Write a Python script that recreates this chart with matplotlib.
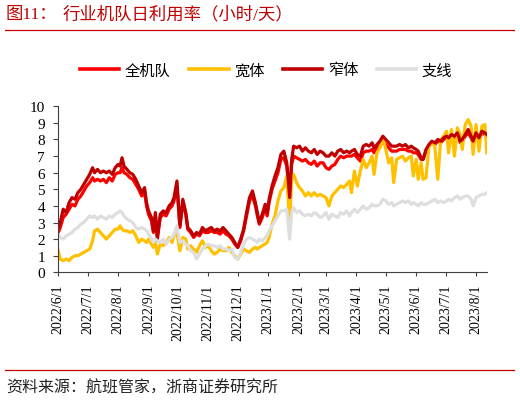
import matplotlib
matplotlib.use("Agg")
import matplotlib.pyplot as plt
import matplotlib.dates as mdates
from matplotlib.lines import Line2D
import pandas as pd

plt.rcParams['font.family'] = ['Liberation Serif', 'Noto Sans CJK SC', 'DejaVu Sans']

title_prefix = "图11："
title_main = "行业机队日利用率（小时/天）"
source_text = "资料来源：航班管家，浙商证券研究所"
series_names = ["全机队", "宽体", "窄体", "支线"]
start_date = "2022-06-01"

# days since 2022-06-01
day_offsets = [
    0, 2, 5, 8, 11, 14, 17, 20, 23, 26, 29, 32, 35, 37, 40, 43, 46, 49, 52, 55,
    58, 61, 63, 65, 67, 70, 73, 76, 79, 82, 85, 88, 90, 92, 95, 97, 99, 101, 104, 107,
    110, 113, 116, 118, 121, 124, 127, 130, 132, 135, 138, 141, 144, 147, 150, 153, 156, 159, 162, 165,
    168, 171, 174, 177, 180, 183, 186, 189, 192, 195, 198, 201, 203, 205, 208, 211, 213, 215, 218, 221,
    224, 227, 230, 233, 236, 238, 240, 243, 246, 249, 252, 255, 258, 261, 264, 267, 270, 273, 276, 279,
    282, 285, 288, 291, 294, 297, 299, 302, 305, 308, 311, 314, 317, 320, 322, 325, 328, 331, 334, 337,
    340, 342, 345, 348, 351, 354, 357, 360, 362, 365, 367, 370, 372, 375, 378, 381, 384, 387, 390, 393,
    396, 398, 401, 404, 407, 410, 412, 415, 418, 421, 423, 426, 429, 432, 435, 437,
]

fleet_all = [
    2.4, 2.7, 3.3, 3.5, 3.8, 4.1, 4.0, 4.4, 4.6, 4.9, 5.2, 5.4, 5.7, 5.5, 5.6, 5.5, 5.6, 5.4, 5.7, 5.5,
    5.9, 6.0, 6.0, 6.3, 6.0, 5.9, 5.7, 5.6, 5.3, 5.0, 4.6, 4.8, 4.0, 3.5, 3.1, 2.4, 3.4, 2.0, 3.3, 3.5,
    3.4, 3.8, 4.0, 4.3, 5.2, 2.7, 4.2, 3.5, 2.6, 2.4, 2.1, 2.3, 2.2, 2.5, 2.4, 2.4, 2.5, 2.4, 2.4, 2.3,
    2.5, 2.3, 2.2, 2.0, 1.7, 1.5, 1.9, 2.5, 3.4, 4.3, 4.6, 4.0, 3.4, 2.9, 3.3, 3.9, 3.4, 4.2, 5.0, 5.5,
    6.0, 6.8, 6.9, 6.4, 4.6, 6.5, 7.0, 6.9, 6.8, 6.7, 6.8, 6.6, 6.5, 6.7, 6.4, 6.6, 6.6, 6.3, 6.2, 6.4,
    6.5, 6.8, 7.0, 6.9, 7.0, 7.0, 7.0, 7.1, 6.9, 6.7, 7.2, 7.3, 7.3, 7.4, 7.2, 7.5, 7.6, 7.9, 7.7, 7.5,
    7.3, 7.3, 7.3, 7.4, 7.4, 7.4, 7.3, 7.3, 7.2, 7.2, 7.1, 6.8, 6.8, 7.3, 7.6, 7.8, 7.7, 7.9, 7.8, 8.0,
    8.1, 8.0, 8.2, 8.1, 8.3, 7.8, 7.9, 8.2, 8.4, 8.1, 7.8, 8.3, 8.0, 8.4, 8.3, 8.2,
]

widebody = [
    1.3, 0.8, 0.7, 0.8, 0.7, 0.9, 1.0, 1.0, 1.1, 1.2, 1.3, 1.4, 1.9, 2.5, 2.6, 2.4, 2.2, 2.0, 2.2, 2.4,
    2.6, 2.6, 2.8, 2.6, 2.5, 2.5, 2.4, 2.5, 2.2, 1.8, 2.0, 1.9, 1.8, 2.0, 1.7, 1.5, 1.8, 1.1, 1.7, 1.6,
    1.8, 2.1, 1.8, 2.2, 2.4, 1.3, 2.1, 2.0, 1.4, 1.6, 1.4, 1.2, 1.6, 1.9, 1.5, 1.6, 1.3, 1.1, 1.2, 1.4,
    1.3, 1.3, 1.5, 1.2, 1.0, 0.8, 1.1, 1.4, 1.3, 1.2, 1.4, 1.5, 1.4, 1.5, 1.6, 1.7, 1.8, 2.1, 2.9, 3.4,
    4.3, 4.9, 5.1, 5.8, 2.9, 5.6, 5.9, 5.4, 5.1, 4.9, 4.6, 4.8, 4.6, 4.8, 4.6, 4.7, 4.6, 4.5, 4.0, 4.6,
    4.8, 5.0, 5.2, 5.1, 5.3, 5.5, 4.8, 6.1, 5.2, 6.1, 6.8, 6.3, 6.6, 7.0, 5.9, 7.2, 7.5, 8.1, 7.4, 6.6,
    6.9, 5.4, 6.8, 6.9, 7.0, 6.7, 6.9, 7.0, 5.8, 6.8, 5.6, 6.6, 5.6, 5.7, 7.6, 7.8, 7.6, 5.6, 8.0, 8.2,
    8.5, 7.2, 8.6, 7.0, 8.7, 8.3, 7.4, 8.9, 9.2, 8.8, 7.1, 8.9, 7.3, 8.8, 8.9, 7.2,
]

narrowbody = [
    2.7, 3.0, 3.8, 3.6, 4.2, 4.5, 4.4, 4.8, 5.0, 5.3, 5.6, 5.9, 6.3, 6.0, 6.2, 6.0, 6.1, 6.0, 6.1, 5.9,
    6.3, 6.5, 6.4, 6.9, 6.4, 6.2, 6.0, 5.9, 5.6, 5.2, 4.8, 5.1, 4.2, 3.7, 3.3, 2.5, 3.6, 2.1, 3.5, 3.7,
    3.6, 4.0, 4.2, 4.5, 5.5, 2.8, 4.4, 3.6, 2.7, 2.5, 2.2, 2.4, 2.3, 2.7, 2.5, 2.6, 2.7, 2.5, 2.6, 2.5,
    2.7, 2.5, 2.3, 2.1, 1.8, 1.5, 2.0, 2.6, 3.6, 4.5, 4.9, 4.2, 3.6, 3.0, 3.5, 4.1, 3.6, 4.4, 5.2, 5.8,
    6.3, 7.1, 7.3, 6.6, 4.5, 6.8, 7.6, 7.5, 7.6, 7.3, 7.5, 7.3, 7.2, 7.4, 7.1, 7.3, 7.2, 7.0, 7.0, 7.2,
    7.0, 7.3, 7.4, 7.2, 7.3, 7.2, 7.3, 7.4, 7.1, 7.0, 7.6, 7.7, 7.6, 7.8, 7.5, 7.7, 7.9, 8.2, 8.0, 7.8,
    7.6, 7.6, 7.6, 7.7, 7.6, 7.7, 7.5, 7.6, 7.5, 7.4, 7.3, 6.9, 6.8, 7.4, 7.7, 7.9, 7.8, 8.0, 7.9, 8.1,
    8.2, 8.1, 8.3, 8.2, 8.4, 7.9, 8.0, 8.3, 8.6, 8.2, 7.9, 8.4, 8.1, 8.5, 8.4, 8.3,
]

regional = [
    2.3, 2.1, 2.0, 2.2, 2.3, 2.4, 2.6, 2.7, 2.9, 3.0, 3.2, 3.4, 3.3, 3.4, 3.2, 3.4, 3.3, 3.2, 3.4, 3.3,
    3.5, 3.6, 3.7, 3.6, 3.4, 3.2, 3.1, 3.0, 2.7, 2.6, 2.7, 2.6, 2.5, 2.3, 2.0, 1.8, 2.0, 1.9, 1.8, 2.0,
    1.7, 2.0, 2.1, 2.3, 2.8, 1.8, 1.9, 1.7, 1.6, 1.3, 1.2, 0.8, 1.1, 1.4, 1.6, 1.7, 1.6, 1.6, 1.5, 1.6,
    1.4, 1.4, 1.3, 1.4, 0.9, 0.8, 1.2, 1.7, 2.0, 2.1, 2.0, 1.9, 1.8, 2.0, 1.9, 2.1, 2.2, 2.5, 2.8, 3.1,
    3.4, 3.7, 3.7, 3.8, 2.0, 3.6, 3.9, 3.6, 3.7, 3.5, 3.4, 3.5, 3.4, 3.6, 3.5, 3.3, 3.4, 3.6, 3.2, 3.5,
    3.4, 3.3, 3.6, 3.5, 3.7, 3.4, 3.6, 3.8, 3.6, 3.8, 4.0, 3.8, 3.9, 4.1, 4.0, 4.0, 4.1, 4.4, 4.3, 4.1,
    4.2, 4.0, 4.1, 4.2, 4.3, 4.2, 4.3, 4.1, 4.2, 4.1, 4.0, 4.2, 4.1, 4.1, 4.2, 4.3, 4.4, 4.2, 4.3, 4.2,
    4.3, 4.4, 4.3, 4.5, 4.6, 4.4, 4.5, 4.6, 4.6, 4.4, 4.0, 4.5, 4.6, 4.7, 4.7, 4.8,
]

tick_labels = ["2022/6/1", "2022/7/1", "2022/8/1", "2022/9/1", "2022/10/1", "2022/11/1",
               "2022/12/1", "2023/1/1", "2023/2/1", "2023/3/1", "2023/4/1", "2023/5/1",
               "2023/6/1", "2023/7/1", "2023/8/1"]
y_ticks = [0, 1, 2, 3, 4, 5, 6, 7, 8, 9, 10]

colors = ["#FF0000", "#FFC000", "#C00000", "#DEDEDE"]

dates = pd.Timestamp(start_date) + pd.to_timedelta(day_offsets, unit="D")
tick_dates = pd.to_datetime(tick_labels, format="%Y/%m/%d")

fig = plt.figure(figsize=(5.2, 4.02), dpi=100)
ax = fig.add_axes([0.1121, 0.3201, 0.8250, 0.4130])

for name, vals, c in zip(series_names, [fleet_all, widebody, narrowbody, regional], colors):
    ax.plot(dates, vals, color=c, lw=2.3, label=name, solid_joinstyle='round')

ax.set_xlim(pd.Timestamp(start_date), pd.Timestamp(start_date) + pd.Timedelta(days=437.5))
ax.set_ylim(0, 10)
ax.set_yticks(y_ticks)
ax.set_xticks(tick_dates)
ax.set_xticklabels(tick_labels, rotation=90, fontsize=10, family='Liberation Serif')
ax.tick_params(axis='x', direction='out', length=3, pad=5.0, color='#404040', width=0.8)
ax.tick_params(axis='y', direction='out', length=3.5, pad=6.0, color='#404040', width=0.8,
               labelsize=11)
for s in ['top', 'right']:
    ax.spines[s].set_visible(False)
for s in ['left', 'bottom']:
    ax.spines[s].set_color('#404040')
    ax.spines[s].set_linewidth(0.8)

leg = fig.legend(loc='center', bbox_to_anchor=(0.5115, 0.8234), ncol=4, frameon=False,
                 handlelength=2.6, handletextpad=0.35, columnspacing=1.2,
                 prop={'family': ['Noto Sans CJK SC'], 'size': 11})
for h in leg.get_lines():
    h.set_linewidth(2.6)

fig.text(0.011, 0.963, title_prefix, color='#C00000', fontsize=12.5, va='center', ha='left',
         family=['Liberation Serif', 'Noto Sans CJK SC'])
fig.text(0.121, 0.963, title_main, color='#C00000', fontsize=12.5, va='center', ha='left',
         family=['Liberation Serif', 'Noto Sans CJK SC'])
fig.add_artist(Line2D([0.0096, 0.988], [0.9229, 0.9229], color='#C00000', lw=0.9,
                      transform=fig.transFigure))
fig.add_artist(Line2D([0.0096, 0.988], [0.0771, 0.0771], color='#C00000', lw=0.9,
                      transform=fig.transFigure))
fig.text(0.0115, 0.0348, source_text, color='#222222', fontsize=11.5, va='center', ha='left',
         family=['Noto Sans CJK SC'])

fig.savefig("out.png", dpi=100)
